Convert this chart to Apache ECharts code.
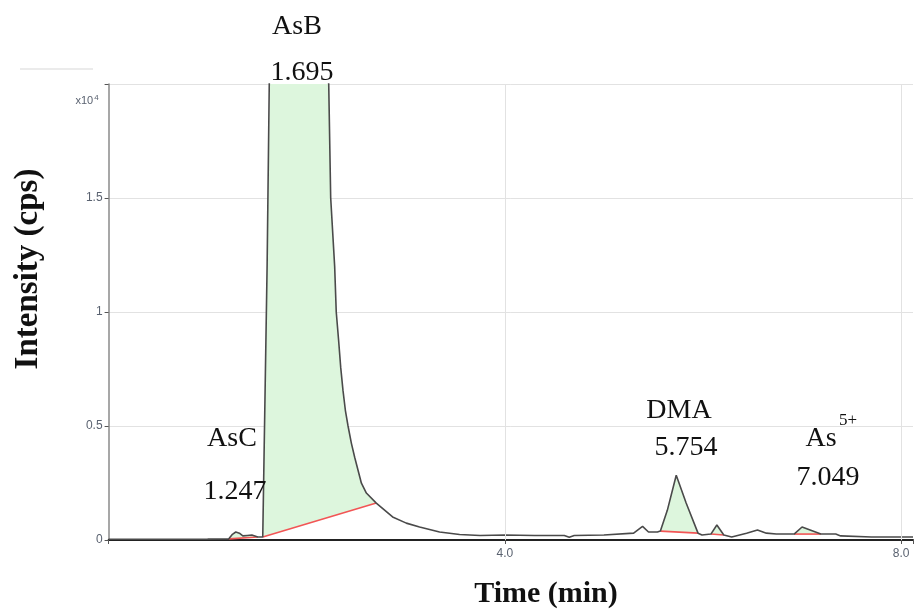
<!DOCTYPE html>
<html>
<head>
<meta charset="utf-8">
<script src="https://cdn.jsdelivr.net/npm/echarts@6/dist/echarts.min.js"></script>
<style>
html, body { margin: 0; padding: 0; background: #fff; }
#chromatogram { width: 916px; height: 613px; }
</style>
</head>
<body>
<div id="chromatogram"></div>
<script>
// retention time (min) and intensity (x10^4 cps)
var time = [0, 0.5, 1.0, 1.214, 1.25, 1.284, 1.32, 1.355, 1.40, 1.446,
    1.506, 1.556, 1.60, 1.63, 1.695, 1.85, 2.0, 2.15, 2.222, 2.242,
    2.282, 2.298, 2.322, 2.343, 2.366, 2.390, 2.417, 2.451, 2.484, 2.518,
    2.552, 2.602, 2.702, 2.786, 2.867, 3.005, 3.139, 3.341, 3.543, 3.75,
    4.0, 4.3, 4.6, 4.65, 4.7, 5.0, 5.3, 5.39, 5.45, 5.54,
    5.57, 5.64, 5.73, 5.83, 5.95, 5.99, 6.08, 6.14, 6.21, 6.29,
    6.44, 6.55, 6.64, 6.74, 6.92, 7.0, 7.19, 7.34, 7.39, 7.7, 8.12];
var intensity = [0.003, 0.003, 0.004, 0.005, 0.025, 0.035, 0.03, 0.018, 0.02, 0.022,
    0.013, 0.013, 1.2, 2.3, 4.5, 3.4, 2.7, 2.2, 2.0, 1.5,
    1.2, 1.0, 0.875, 0.757, 0.656, 0.569, 0.5, 0.424, 0.363, 0.306,
    0.249, 0.206, 0.162, 0.131, 0.101, 0.074, 0.057, 0.035, 0.024, 0.02,
    0.022, 0.02, 0.02, 0.012, 0.02, 0.022, 0.03, 0.06, 0.035, 0.035,
    0.039, 0.13, 0.284, 0.162, 0.03, 0.022, 0.026, 0.066, 0.022, 0.013,
    0.03, 0.044, 0.03, 0.026, 0.026, 0.057, 0.026, 0.026, 0.018, 0.013, 0.013];

// integration windows (min)
var peakStart = [1.214, 1.556, 5.57, 6.08, 6.92];
var peakEnd = [1.506, 2.702, 5.95, 6.21, 7.19];

// axis ticks
var xTicks = [4, 8];
var yTicks = [0, 0.5, 1, 1.5];

var serif = "'Liberation Serif', 'Times New Roman', serif";

function renderPeak(params, api) {
    var t0 = api.value(0), t1 = api.value(1);
    var cs = params.coordSys;
    var pts = [];
    for (var i = 0; i < time.length; i++) {
        if (time[i] >= t0 - 1e-6 && time[i] <= t1 + 1e-6) {
            var p = api.coord([time[i], intensity[i]]);
            pts.push([p[0], Math.max(p[1], cs.y)]);
        }
    }
    var a = pts[0], b = pts[pts.length - 1];
    return {
        type: 'group',
        children: [
            { type: 'polygon', shape: { points: pts }, style: { fill: '#ddf6dd' } },
            { type: 'line', shape: { x1: a[0], y1: a[1], x2: b[0], y2: b[1] },
              style: { stroke: '#f25555', lineWidth: 1.6 } }
        ]
    };
}

function label(text, x, y, size, bold) {
    return {
        type: 'text', x: x, y: y, z: 100,
        style: {
            text: text, x: 0, y: 0,
            align: 'center', verticalAlign: 'middle',
            textAlign: 'center', textVerticalAlign: 'middle',
            fill: '#111',
            font: (bold ? 'bold ' : '') + size + 'px ' + serif
        }
    };
}

var chart = echarts.init(document.getElementById('chromatogram'));

var traceData = time.map(function (t, i) { return [t, intensity[i]]; });
var peakData = peakStart.map(function (s, i) { return [s, peakEnd[i], 0]; });

var option = {
    backgroundColor: '#fff',
    animation: false,
    grid: { left: 108.6, right: 0, top: 84, bottom: 73, containLabel: false },
    xAxis: {
        type: 'value', min: 0, max: 8.12, interval: 4,
        axisLine: { lineStyle: { color: '#222', width: 2 } },
        axisTick: { show: true, length: 4, lineStyle: { color: '#555' } },
        axisLabel: {
            color: '#5a6270', fontSize: 12, fontFamily: 'Liberation Sans', margin: 8,
            formatter: function (v) { return xTicks.indexOf(v) >= 0 ? v.toFixed(1) : ''; }
        },
        // vertical grid only at the labelled times (drawn as markLine below)
        splitLine: { show: false }
    },
    yAxis: {
        type: 'value', min: 0, max: 2, interval: 0.5,
        axisLine: { show: true, lineStyle: { color: '#8a8a8a', width: 1.5 } },
        axisTick: { show: true, length: 4, lineStyle: { color: '#555' } },
        axisLabel: {
            color: '#5a6270', fontSize: 12, fontFamily: 'Liberation Sans', margin: 6,
            formatter: function (v) { return yTicks.indexOf(v) >= 0 ? String(v) : ''; }
        },
        splitLine: { show: true, lineStyle: { color: '#e2e2e2', width: 1 } }
    },
    series: [
        {
            type: 'custom',
            renderItem: renderPeak,
            data: peakData,
            encode: { x: [0, 1], y: 2 },
            clip: true,
            silent: true,
            z: 1,
            markLine: {
                silent: true,
                symbol: 'none',
                label: { show: false },
                lineStyle: { color: '#e2e2e2', width: 1, type: 'solid' },
                data: xTicks.map(function (v) { return { xAxis: v }; })
            }
        },
        {
            type: 'line',
            data: traceData,
            showSymbol: false,
            clip: true,
            lineStyle: { color: '#4a4a4a', width: 1.6 },
            z: 3
        }
    ],
    graphic: [
        { type: 'line', shape: { x1: 20, y1: 69, x2: 93, y2: 69 },
          style: { stroke: '#e4e4e4', lineWidth: 1.5 } },
        {
            type: 'text', x: 87, y: 101, z: 100,
            style: {
                text: '{a|x10}{b|4}', x: 0, y: 0,
                align: 'center', verticalAlign: 'middle',
                textAlign: 'center', textVerticalAlign: 'middle',
                rich: {
                    a: { fontSize: 11, fontFamily: 'Liberation Sans', fill: '#5a6270', color: '#5a6270' },
                    b: { fontSize: 8, fontFamily: 'Liberation Sans', fill: '#5a6270', color: '#5a6270', verticalAlign: 'top', padding: [0, 0, 6, 1] }
                }
            }
        },
        label('AsB', 297, 27, 28),
        label('1.695', 302, 73, 28),
        label('AsC', 232, 439, 28),
        label('1.247', 235, 492, 28),
        label('DMA', 679, 411, 28),
        label('5.754', 686, 448, 28),
        label('As', 821, 439, 28),
        label('5+', 848, 421, 17),
        label('7.049', 828, 478, 28),
        label('Time (min)', 546, 594, 30, true),
        (function () {
            var t = label('Intensity (cps)', 28, 269, 33, true);
            t.rotation = Math.PI / 2;
            return t;
        })()
    ]
};

chart.setOption(option);
</script>
</body>
</html>
